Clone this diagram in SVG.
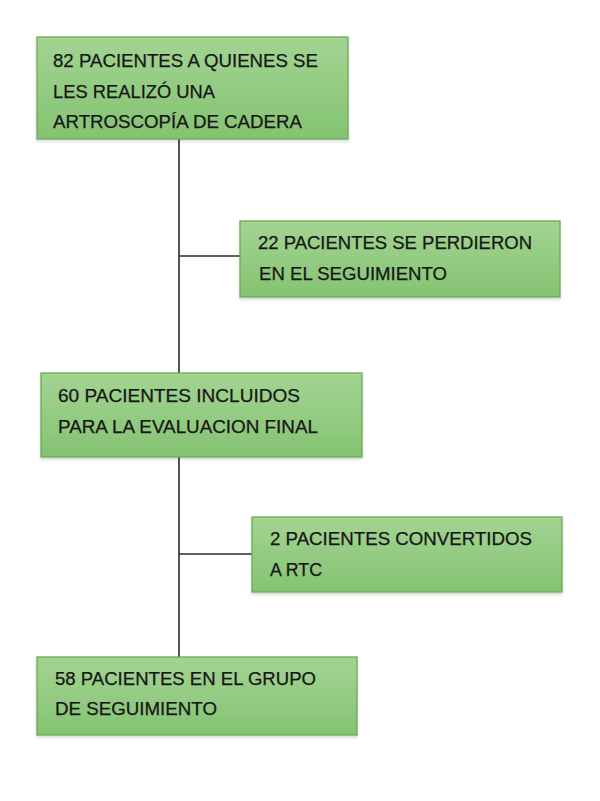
<svg xmlns="http://www.w3.org/2000/svg" width="600" height="801" viewBox="0 0 600 801">
<defs>
<linearGradient id="g" x1="0" y1="0" x2="0" y2="1">
<stop offset="0" stop-color="#a3d492"/>
<stop offset="1" stop-color="#84c372"/>
</linearGradient>
<filter id="sh" x="-5%" y="-10%" width="110%" height="125%">
<feDropShadow dx="0" dy="2" stdDeviation="1.5" flood-color="#000" flood-opacity="0.15"/>
</filter>
</defs>
<style>
.box{fill:url(#g);stroke:#6daa55;stroke-width:1.3;filter:url(#sh)}
.t{font-family:"Liberation Sans",Arial,sans-serif;font-size:18px;fill:#161616;stroke:#161616;stroke-width:0.25}
.c{stroke:#2a2a2a;stroke-width:1.6;fill:none}
</style>
<rect width="600" height="801" fill="#ffffff"/>
<g id="connectors">
<line class="c" x1="179" y1="139" x2="179" y2="373"/>
<line class="c" x1="179" y1="256" x2="240" y2="256"/>
<line class="c" x1="179" y1="457" x2="179" y2="657"/>
<line class="c" x1="179" y1="554" x2="252" y2="554"/>
</g>
<g id="n1">
<rect class="box" x="37" y="37" width="311" height="102"/>
<text class="t" x="53" y="67" textLength="265" lengthAdjust="spacingAndGlyphs">82 PACIENTES A QUIENES SE</text>
<text class="t" x="53" y="98" textLength="162" lengthAdjust="spacingAndGlyphs">LES REALIZÓ UNA</text>
<text class="t" x="53" y="128" textLength="249" lengthAdjust="spacingAndGlyphs">ARTROSCOPÍA DE CADERA</text>
</g>
<g id="n2">
<rect class="box" x="240" y="221" width="320" height="76"/>
<text class="t" x="258" y="249" textLength="274" lengthAdjust="spacingAndGlyphs">22 PACIENTES SE PERDIERON</text>
<text class="t" x="259" y="280" textLength="188" lengthAdjust="spacingAndGlyphs">EN EL SEGUIMIENTO</text>
</g>
<g id="n3">
<rect class="box" x="41" y="373" width="321" height="84"/>
<text class="t" x="58" y="402" textLength="242" lengthAdjust="spacingAndGlyphs">60 PACIENTES INCLUIDOS</text>
<text class="t" x="58" y="433" textLength="260" lengthAdjust="spacingAndGlyphs">PARA LA EVALUACION FINAL</text>
</g>
<g id="n4">
<rect class="box" x="252" y="517" width="310" height="75"/>
<text class="t" x="270" y="545" textLength="262" lengthAdjust="spacingAndGlyphs">2 PACIENTES CONVERTIDOS</text>
<text class="t" x="270" y="576" textLength="52" lengthAdjust="spacingAndGlyphs">A RTC</text>
</g>
<g id="n5">
<rect class="box" x="37" y="657" width="320" height="78"/>
<text class="t" x="55" y="685" textLength="261" lengthAdjust="spacingAndGlyphs">58 PACIENTES EN EL GRUPO</text>
<text class="t" x="55" y="715" textLength="162" lengthAdjust="spacingAndGlyphs">DE SEGUIMIENTO</text>
</g>
</svg>
